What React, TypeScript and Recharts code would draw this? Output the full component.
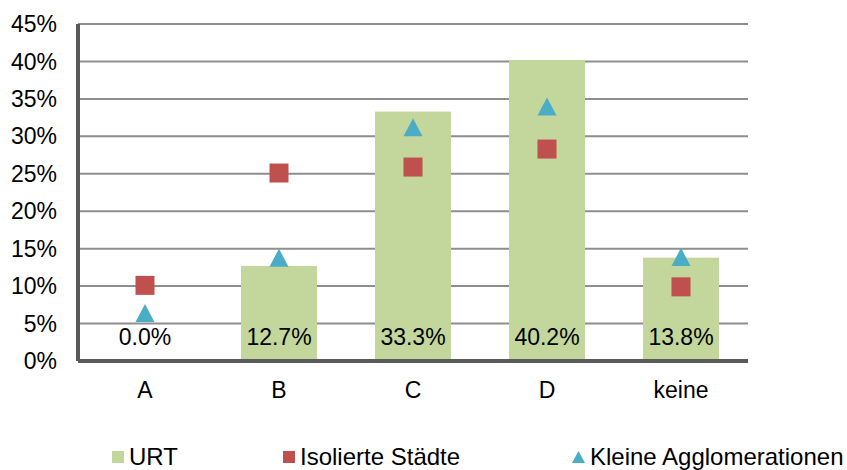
import React from 'react';
import { ComposedChart, Bar, Line, XAxis, YAxis, CartesianGrid, Legend } from 'recharts';

const categories = ['A', 'B', 'C', 'D', 'keine'];
const urt = [0, 12.7, 33.3, 40.2, 13.8];
const isolierteStaedte = [10.1, 25.1, 25.9, 28.3, 9.9];
const kleineAgglomerationen = [6.4, 13.8, 31.2, 34.0, 13.9];
const yTicks = [0, 5, 10, 15, 20, 25, 30, 35, 40, 45];

const colors = {
  urt: '#c3d69b',
  isolierte: '#c0504d',
  kleine: '#4bacc6',
  axis: '#5a5a5a',
  grid: '#8e8e8e',
};

const font = '"Liberation Sans", Arial, sans-serif';

const data = categories.map((name, i) => ({
  name,
  urt: urt[i],
  isolierte: isolierteStaedte[i],
  kleine: kleineAgglomerationen[i],
}));

const SquareDot = ({ cx, cy }: any) => (
  <rect x={cx - 9.5} y={cy - 9.5} width={19} height={19} fill={colors.isolierte} />
);

const TriangleDot = ({ cx, cy }: any) => (
  <polygon points={`${cx},${cy - 9} ${cx + 9.5},${cy + 9} ${cx - 9.5},${cy + 9}`} fill={colors.kleine} />
);

// bar plus its value label at the bottom, so the 0.0% label is drawn too
const BarWithLabel = ({ x, y, width, height, payload }: any) => (
  <g>
    {height > 0 && <rect x={x} y={y} width={width} height={height} fill={colors.urt} />}
    <text x={x + width / 2} y={y + height - 16} textAnchor="middle" fontSize={23} fontFamily={font} fill="#000">
      {`${Number(payload.urt).toFixed(1)}%`}
    </text>
  </g>
);

const legendItems = [
  { label: 'URT', color: colors.urt, shape: 'square', left: 112 },
  { label: 'Isolierte Städte', color: colors.isolierte, shape: 'square', left: 283 },
  { label: 'Kleine Agglomerationen', color: colors.kleine, shape: 'triangle', left: 572 },
];

const CustomLegend = () => (
  <div style={{ position: 'relative', width: 847, height: 45, fontFamily: font, fontSize: 24, color: '#000' }}>
    {legendItems.map((item) => (
      <div key={item.label} style={{ position: 'absolute', left: item.left, top: 18, height: 28, display: 'flex', alignItems: 'center', whiteSpace: 'nowrap' }}>
        {item.shape === 'square' ? (
          <span style={{ display: 'inline-block', width: 12, height: 12, background: item.color, marginRight: 5 }} />
        ) : (
          <svg width={13} height={12} style={{ marginRight: 5 }}>
            <polygon points="6.5,0 13,12 0,12" fill={item.color} />
          </svg>
        )}
        <span style={{ lineHeight: '28px' }}>{item.label}</span>
      </div>
    ))}
  </div>
);

export default function App() {
  return (
    <div style={{ position: 'absolute', left: 0, top: 0, background: '#fff' }}>
      <ComposedChart width={847} height={470} data={data} margin={{ top: 24, right: 99, bottom: 0, left: 8 }}>
        <CartesianGrid vertical={false} stroke={colors.grid} strokeWidth={2} />
        <XAxis
          dataKey="name"
          height={64}
          tickSize={0}
          tickMargin={21}
          axisLine={{ stroke: colors.axis, strokeWidth: 4 }}
          tick={{ fontSize: 23, fontFamily: font, fill: '#000' }}
        />
        <YAxis
          width={70}
          domain={[0, 45]}
          ticks={yTicks}
          tickFormatter={(v: number) => `${v}%`}
          tickSize={0}
          tickMargin={21}
          axisLine={{ stroke: colors.axis, strokeWidth: 4 }}
          tick={{ fontSize: 23, fontFamily: font, fill: '#000' }}
        />
        <Bar dataKey="urt" name="URT" fill={colors.urt} barSize={76} shape={BarWithLabel} isAnimationActive={false} />
        <Line dataKey="isolierte" name="Isolierte Städte" stroke="none" dot={<SquareDot />} activeDot={false} isAnimationActive={false} />
        <Line dataKey="kleine" name="Kleine Agglomerationen" stroke="none" dot={<TriangleDot />} activeDot={false} isAnimationActive={false} />
        <Legend verticalAlign="bottom" content={<CustomLegend />} wrapperStyle={{ left: 0, width: 847, height: 45 }} />
      </ComposedChart>
    </div>
  );
}
